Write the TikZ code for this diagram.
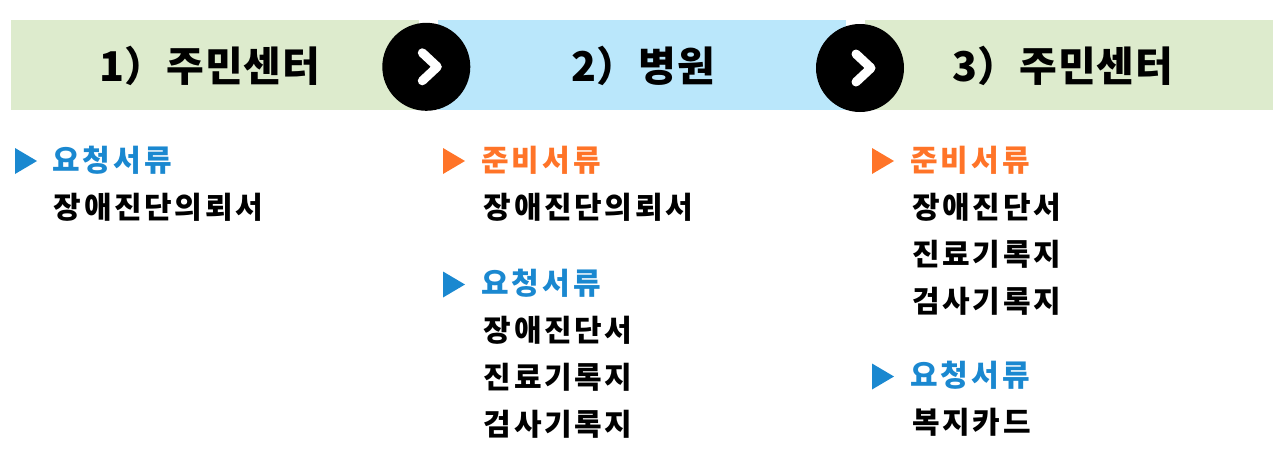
\documentclass[tikz,border=0pt]{standalone}
\usepackage{fontspec}
\setmainfont{Noto Sans CJK KR}
\definecolor{bandgreen}{HTML}{DDEBCD}
\definecolor{bandblue}{HTML}{BAE7FB}
\definecolor{headblue}{HTML}{1A88D0}
\definecolor{headorange}{HTML}{FF7428}
\begin{document}
\begin{tikzpicture}[x=1pt,y=-1pt,
        bandnode/.style={rectangle, inner sep=0pt, minimum width=408pt, minimum height=90pt},
        titlenode/.style={anchor=base west, inner sep=0pt, font=\fontsize{41}{48}\selectfont\bfseries\addfontfeature{LetterSpace=2}},
        roundnode/.style={circle, fill=black, inner sep=0pt, minimum size=88pt},
        headnode/.style={anchor=base west, inner sep=0pt, font=\fontsize{30}{36}\selectfont\bfseries\addfontfeature{LetterSpace=10}},
        itemnode/.style={anchor=base west, inner sep=0pt, font=\fontsize{30}{36}\selectfont\bfseries\addfontfeature{LetterSpace=9}},
    ]
        \useasboundingbox (0,0) rectangle (1285,461);

        %Bands
        \node[bandnode, fill=bandgreen] (band1) at (215,65) {};
        \node[bandnode, fill=bandblue] (band2) at (642,65) {};
        \node[bandnode, fill=bandgreen] (band3) at (1069,65) {};

        \node[titlenode] (title1) at (99,81.5) {1）주민센터};
        \node[titlenode] (title2) at (571,81.5) {2）병원};
        \node[titlenode] (title3) at (952,81.5) {3）주민센터};

        \node[roundnode] (next1) at (426.3,66.8) {};
        \node[roundnode] (next2) at (860,68) {};

        %Chevrons
        \foreach \n in {next1,next2}{
            \draw[white, line width=9pt, line cap=round, line join=round]
                ([shift={(-4,-14)}]\n.center) -- ([shift={(11,0)}]\n.center) -- ([shift={(-4,14)}]\n.center);
        }

        %Column 1
        \fill[headblue] (15,148) -- (37,161) -- (15,174) -- cycle;
        \node[headnode, text=headblue] (ask1) at (52,171) {요청서류};
        \node[itemnode] (doc1) at (53.5,218) {장애진단의뢰서};

        %Column 2
        \fill[headorange] (443,148) -- (465,161) -- (443,174) -- cycle;
        \node[headnode, text=headorange] (prep2) at (481,171) {준비서류};
        \node[itemnode] (doc2a) at (483.5,218) {장애진단의뢰서};

        \fill[headblue] (443,271.5) -- (465,284.5) -- (443,297.5) -- cycle;
        \node[headnode, text=headblue] (ask2) at (481,294.5) {요청서류};
        \node[itemnode] (doc2b) at (483.5,341.5) {장애진단서};
        \node[itemnode] (doc2c) at (483.5,388.5) {진료기록지};
        \node[itemnode] (doc2d) at (483.5,435.5) {검사기록지};

        %Column 3
        \fill[headorange] (872,148) -- (894,161) -- (872,174) -- cycle;
        \node[headnode, text=headorange] (prep3) at (910,171) {준비서류};
        \node[itemnode] (doc3a) at (912,218) {장애진단서};
        \node[itemnode] (doc3b) at (912,265) {진료기록지};
        \node[itemnode] (doc3c) at (912,312) {검사기록지};

        \fill[headblue] (872,363.5) -- (894,376.5) -- (872,389.5) -- cycle;
        \node[headnode, text=headblue] (ask3) at (910,386.5) {요청서류};
        \node[itemnode] (doc3d) at (912,433) {복지카드};
    \end{tikzpicture}
\end{document}
